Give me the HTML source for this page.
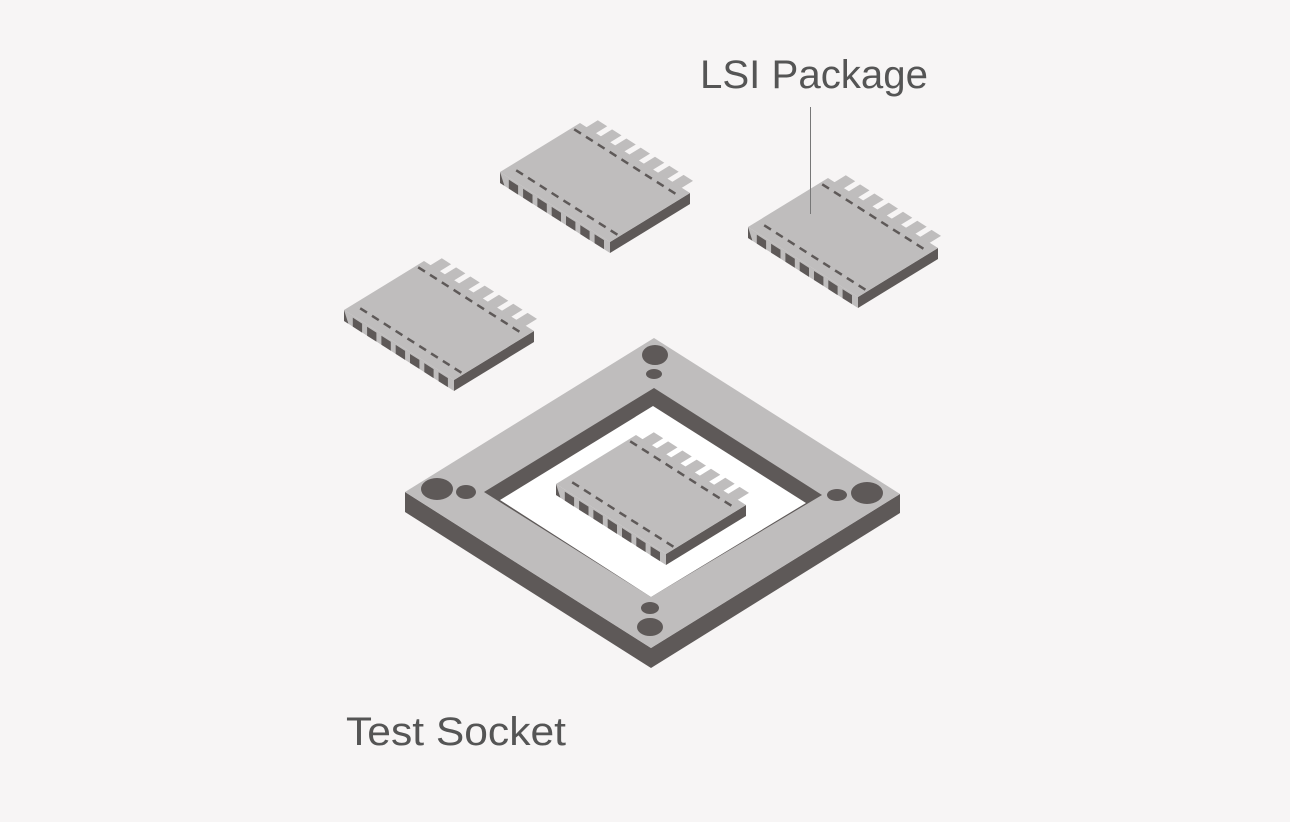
<!DOCTYPE html>
<html><head><meta charset="utf-8"><style>
html,body{margin:0;padding:0;background:#f7f5f5;}
svg{display:block;}
</style></head><body>
<svg id="s" width="1290" height="822" viewBox="0 0 1290 822" xmlns="http://www.w3.org/2000/svg">
<rect width="1290" height="822" fill="#f7f5f5"/>
<polygon points="405,492 651,648 651,668 405,512" fill="#5e5958"/>
<polygon points="651,648 900,494 900,513 651,668" fill="#5e5958"/>
<polygon points="654,338 900,494 651,648 405,492" fill="#bfbdbd"/>
<polygon points="654,388 822,495 651,597 484,492" fill="#5e5958"/>
<polygon points="653,406 806,503 651,597 500,500" fill="#ffffff"/>
<ellipse cx="655" cy="355" rx="13" ry="10" fill="#5e5958"/>
<ellipse cx="654" cy="374" rx="8" ry="5" fill="#5e5958"/>
<ellipse cx="437" cy="489" rx="16" ry="11" fill="#5e5958"/>
<ellipse cx="466" cy="492" rx="10" ry="7" fill="#5e5958"/>
<ellipse cx="867" cy="493" rx="16" ry="11" fill="#5e5958"/>
<ellipse cx="837" cy="495" rx="10" ry="6" fill="#5e5958"/>
<ellipse cx="650" cy="608" rx="9" ry="6" fill="#5e5958"/>
<ellipse cx="650" cy="627" rx="13" ry="9" fill="#5e5958"/>
<g id="chips"></g>
<line x1="810.5" y1="107" x2="810.5" y2="214" stroke="#777" stroke-width="1"/>
<text x="700" y="88" font-family="Liberation Sans, sans-serif" font-size="40" fill="#555" textLength="228" lengthAdjust="spacingAndGlyphs">LSI Package</text>
<text x="346" y="745" font-family="Liberation Sans, sans-serif" font-size="40" fill="#555" textLength="220" lengthAdjust="spacingAndGlyphs">Test Socket</text>
</svg>
<script>
(function(){
var g=document.getElementById('chips'),h='';
var L='#bfbdbd',D='#5e5958';
function chip(ox,oy){
 function P(s,t,dy){return [ox+s*110+t*80, oy+s*70-t*49+(dy||0)];}
 function poly(pts,f){h+='<polygon points="'+pts.map(function(p){return p[0].toFixed(1)+','+p[1].toFixed(1)}).join(' ')+'" fill="'+f+'"/>';}
 var H=11,i,s1,s2;
 for(i=0;i<7;i++){s1=0.06+i*0.13;s2=s1+0.085;poly([P(s1,0.95),P(s2,0.95),P(s2,1.14),P(s1,1.14)],L);}
 poly([P(0,0),P(1,0),P(1,0,H),P(0,0,H)],L);
 poly([P(0,0),P(0.04,0,H),P(0,0,H)],D);
 for(i=0;i<7;i++){s1=0.08+i*0.13;s2=s1+0.085;poly([P(s1,0,2),P(s2,0,2),P(s2,0,H),P(s1,0,H)],D);}
 poly([P(1,0),P(1,1),P(1,1,H),P(1,0,H)],D);
 poly([P(0,0),P(0,1),P(1,1),P(1,0)],L);
 var a=P(0.06,0.12),b=P(0.98,0.12),c=P(0.02,0.9),d=P(0.94,0.9);
 h+='<line x1="'+a[0]+'" y1="'+a[1]+'" x2="'+b[0]+'" y2="'+b[1]+'" stroke="'+D+'" stroke-width="2.5" stroke-dasharray="8 6"/>';
 h+='<line x1="'+c[0]+'" y1="'+c[1]+'" x2="'+d[0]+'" y2="'+d[1]+'" stroke="'+D+'" stroke-width="2.5" stroke-dasharray="8 6"/>';
}
chip(500,172);chip(748,227);chip(344,310);chip(556,484);
g.innerHTML=h;
})();
</script>
</body></html>
